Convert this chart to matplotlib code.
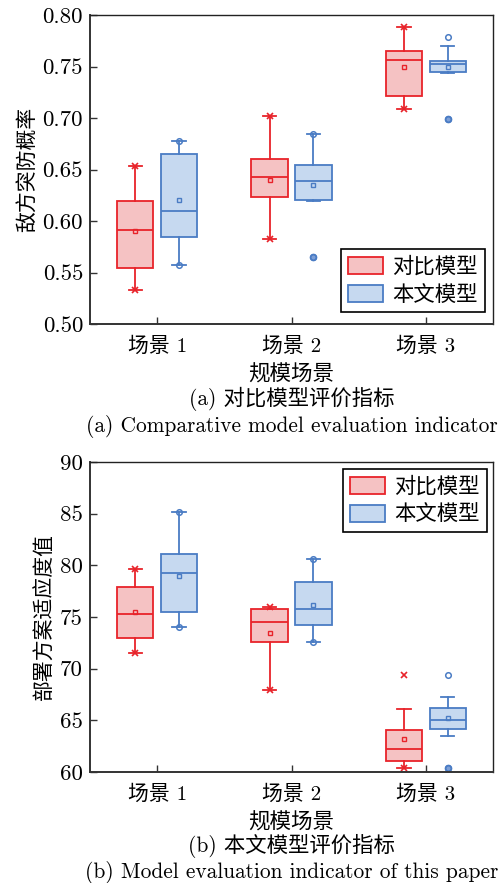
import matplotlib
matplotlib.use("Agg")
import matplotlib.pyplot as plt
from matplotlib.patches import Patch

plt.rcParams['font.family'] = ['cmr10', 'Noto Sans CJK SC']
plt.rcParams['axes.formatter.use_mathtext'] = True
plt.rcParams['mathtext.fontset'] = 'cm'

scenes = ['场景 1', '场景 2', '场景 3']
series_names = ['对比模型', '本文模型']

# Panel (a): 敌方突防概率  box stats [whislo, q1, med, q3, whishi, mean]
a_compare = [
    [0.533, 0.554, 0.591, 0.619, 0.653, 0.590],
    [0.583, 0.623, 0.643, 0.660, 0.702, 0.640],
    [0.709, 0.721, 0.756, 0.7655, 0.788, 0.750],
]
a_ours = [
    [0.5576, 0.584, 0.610, 0.665, 0.6775, 0.620],
    [0.619, 0.620, 0.639, 0.654, 0.684, 0.635],
    [0.744, 0.7446, 0.7526, 0.7555, 0.770, 0.750],
]
# data minimum / maximum markers
a_compare_minmax = [[0.533, 0.653], [0.583, 0.702], [0.709, 0.788]]
a_ours_minmax = [[0.5576, 0.6775], [0.5647, 0.684], [0.699, 0.779]]
# outliers below the whiskers
a_compare_out = [[], [], []]
a_ours_out = [[], [0.5647], [0.699]]

# Panel (b): 部署方案适应度值
b_compare = [
    [71.53, 72.95, 75.30, 77.93, 79.62, 75.50],
    [67.92, 72.56, 74.53, 75.75, 75.92, 73.43],
    [60.35, 61.08, 62.18, 64.02, 66.11, 63.15],
]
b_ours = [
    [74.08, 75.50, 79.30, 81.14, 85.13, 78.97],
    [72.56, 74.21, 75.75, 78.43, 80.59, 76.17],
    [63.47, 64.18, 65.02, 66.21, 67.24, 65.18],
]
b_compare_minmax = [[71.53, 79.62], [67.92, 75.92], [60.35, 69.34]]
b_ours_minmax = [[74.08, 85.13], [72.56, 80.59], [60.35, 69.34]]
b_compare_out = [[], [], []]
b_ours_out = [[], [], [60.35]]

RED_E, RED_F = '#e8232a', '#f5c2c3'
BLUE_E, BLUE_F = '#4a7cc4', '#c6d9f0'

fig = plt.figure(figsize=(5.04, 8.83), dpi=100)
W, H = 504, 883


def add_ax(l, t, r, b):
    return fig.add_axes([l / W, 1 - b / H, (r - l) / W, (b - t) / H])


def draw_panel(ax, comp, ours, minmax, outs, ylim, yticks, ylabels, ylabel, cap1, cap2,
               legloc, legbox):
    off = 0.163
    width = 0.27
    groups = [(comp, -off, RED_E, RED_F, 'x', minmax[0], outs[0]),
              (ours, off, BLUE_E, BLUE_F, 'o', minmax[1], outs[1])]
    for data, o, ec, fc, wm, mm, out in groups:
        stats = []
        pos = []
        for i, d in enumerate(data):
            stats.append(dict(whislo=d[0], q1=d[1], med=d[2], q3=d[3], whishi=d[4],
                              mean=d[5], fliers=[]))
            pos.append(i + 1 + o)
        ax.bxp(stats, positions=pos, widths=width, patch_artist=True, showmeans=True,
               showfliers=False,
               boxprops=dict(facecolor=fc, edgecolor=ec, linewidth=1.3),
               medianprops=dict(color=ec, linewidth=1.3),
               whiskerprops=dict(color=ec, linewidth=1.3),
               capprops=dict(color=ec, linewidth=1.3),
               capwidths=0.1,
               meanprops=dict(marker='s', markersize=3.5, markerfacecolor='none',
                              markeredgecolor=ec, markeredgewidth=1.0))
        for p, vals in zip(pos, out):
            for v in vals:
                ax.plot(p, v, ls='none', marker='o', ms=4.5, mfc='#7d9fd6', mec=ec, mew=1.0)
        for p, m in zip(pos, mm):
            if wm == 'x':
                ax.plot([p, p], m, ls='none', marker='x', ms=4, mec=ec, mew=1.2)
            else:
                ax.plot([p, p], m, ls='none', marker='o', ms=4,
                        mfc='none', mec=ec, mew=1.1)
    ax.set_xlim(0.5, 3.5)
    ax.set_ylim(*ylim)
    ax.set_yticks(yticks)
    ax.set_yticklabels(ylabels)
    ax.set_xticks([1, 2, 3])
    ax.set_xticklabels(scenes)
    ax.tick_params(direction='in', length=5, width=1.0, labelsize=16.5, top=False, right=False,
                   colors='#333333', labelcolor='black', pad=5)
    ax.tick_params(axis='x', labelsize=15, pad=9)
    for s in ['left', 'bottom']:
        ax.spines[s].set_linewidth(1.4)
        ax.spines[s].set_color('#333333')
    for s in ['top', 'right']:
        ax.spines[s].set_linewidth(1.0)
        ax.spines[s].set_color('#222222')
    ax.set_ylabel(ylabel, fontsize=15, labelpad=4)
    ax.set_xlabel('规模场景', fontsize=15.5, labelpad=6)
    handles = [Patch(facecolor=RED_F, edgecolor=RED_E, linewidth=1.3),
               Patch(facecolor=BLUE_F, edgecolor=BLUE_E, linewidth=1.3)]
    leg = ax.legend(handles, series_names, loc=legloc, bbox_to_anchor=legbox,
                    bbox_transform=ax.transAxes, fontsize=15.4, fancybox=False,
                    framealpha=1, edgecolor='black', handlelength=1.65, handleheight=0.85,
                    borderaxespad=0.0, labelspacing=0.35, borderpad=0.35, handletextpad=0.4)
    leg.get_frame().set_linewidth(1.2)
    cx = (90 + 493) / 2 / W
    ax.text(cx, cap1[0], cap1[1], transform=fig.transFigure, ha='center', va='center',
            fontsize=15.4)
    ax.text(cx, cap2[0], cap2[1], transform=fig.transFigure, ha='center', va='center',
            fontsize=15.4)


ax1 = add_ax(90, 15, 493, 324)
draw_panel(ax1, a_compare, a_ours, [a_compare_minmax, a_ours_minmax],
           [a_compare_out, a_ours_out],
           (0.50, 0.80), [0.50, 0.55, 0.60, 0.65, 0.70, 0.75, 0.80],
           ['0.50', '0.55', '0.60', '0.65', '0.70', '0.75', '0.80'],
           '敌方突防概率',
           (1 - 399 / H, '(a) 对比模型评价指标'),
           (1 - 427 / H, '(a) Comparative model evaluation indicator'),
           'lower right', ((485 - 90) / 403, (324 - 312) / 309))

ax2 = add_ax(90, 462, 493, 772)
draw_panel(ax2, b_compare, b_ours, [b_compare_minmax, b_ours_minmax],
           [b_compare_out, b_ours_out],
           (60, 90), [60, 65, 70, 75, 80, 85, 90],
           ['60', '65', '70', '75', '80', '85', '90'],
           '部署方案适应度值',
           (1 - 846 / H, '(b) 本文模型评价指标'),
           (1 - 873 / H, '(b) Model evaluation indicator of this paper'),
           'upper right', ((487 - 90) / 403, (772 - 469) / 310))

fig.savefig('out.png', dpi=100)
